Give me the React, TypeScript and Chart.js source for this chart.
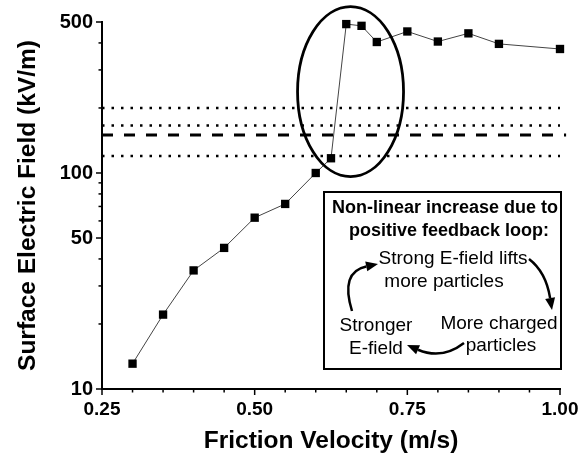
import React, { useEffect, useRef } from 'react';
import { Chart, registerables } from 'chart.js';

Chart.register(...registerables);

// ---- data ----
const frictionVelocity = [0.3, 0.35, 0.4, 0.45, 0.5, 0.55, 0.6, 0.625, 0.65, 0.675, 0.7, 0.75, 0.8, 0.85, 0.9, 1.0];
const surfaceField = [13.1, 22.1, 35.4, 45.0, 62.1, 71.9, 100, 117, 489, 480, 404, 452, 406, 443, 396, 375];
const dottedLevels = [200, 166, 120];
const dashedLevel = 150;
const levelSpan = [0.25, 1.0];
const dashedSpan = [0.25, 1.01];
const xTickValues = [0.25, 0.3, 0.35, 0.4, 0.45, 0.5, 0.55, 0.6, 0.65, 0.7, 0.75, 0.8, 0.85, 0.9, 0.95, 1.0];
const xLabelValues = [0.25, 0.5, 0.75, 1.0];
const yTickValues = [10, 20, 30, 40, 50, 60, 70, 80, 90, 100, 200, 300, 400, 500];
const yLabelValues = [10, 50, 100, 500];
const xTitle = 'Friction Velocity (m/s)';
const yTitle = 'Surface Electric Field (kV/m)';
const boxHeading = ['Non-linear increase due to', 'positive feedback loop:'];
const loopTop = ['Strong E-field lifts', 'more particles'];
const loopRight = ['More charged', 'particles'];
const loopLeft = ['Stronger', 'E-field'];

const FONT = "'Liberation Sans', Arial, Helvetica, sans-serif";

const isIn = (v: number, arr: number[]) => arr.some((a) => Math.abs(a - v) < 1e-6);

function arrow(ctx: CanvasRenderingContext2D, x0: number, y0: number, cx: number, cy: number, x1: number, y1: number) {
  const ang = Math.atan2(y1 - cy, x1 - cx);
  const headLen = 12;
  const headW = 5;
  const bx = x1 - headLen * Math.cos(ang);
  const by = y1 - headLen * Math.sin(ang);
  ctx.beginPath();
  ctx.moveTo(x0, y0);
  ctx.quadraticCurveTo(cx, cy, bx, by);
  ctx.lineWidth = 2.5;
  ctx.strokeStyle = '#000';
  ctx.stroke();
  ctx.beginPath();
  ctx.moveTo(x1, y1);
  ctx.lineTo(bx + headW * Math.sin(ang), by - headW * Math.cos(ang));
  ctx.lineTo(bx - headW * Math.sin(ang), by + headW * Math.cos(ang));
  ctx.closePath();
  ctx.fillStyle = '#000';
  ctx.fill();
}

const decorPlugin = {
  id: 'decor',
  afterDraw(chart: any) {
    const ctx: CanvasRenderingContext2D = chart.ctx;
    const xs = chart.scales.x;
    const ys = chart.scales.y;
    const area = chart.chartArea;
    ctx.save();
    // tick marks
    ctx.strokeStyle = '#000';
    ctx.lineWidth = 1.5;
    xTickValues.forEach((v) => {
      const px = xs.getPixelForValue(v);
      const len = isIn(v, xLabelValues) ? 6 : 3.5;
      ctx.beginPath();
      ctx.moveTo(px, area.bottom);
      ctx.lineTo(px, area.bottom + len);
      ctx.stroke();
    });
    yTickValues.forEach((v) => {
      const py = ys.getPixelForValue(v);
      const len = isIn(v, yLabelValues) ? 6 : 3.5;
      ctx.beginPath();
      ctx.moveTo(area.left, py);
      ctx.lineTo(area.left - len, py);
      ctx.stroke();
    });

    // ellipse around the jump
    const ecx = xs.getPixelForValue(0.657);
    const ecy = ys.getPixelForValue(238);
    ctx.beginPath();
    ctx.ellipse(ecx, ecy, 53, 85, 0, 0, Math.PI * 2);
    ctx.lineWidth = 2.8;
    ctx.stroke();

    // annotation box
    const bl = area.left + 222;
    const bt = area.top + 170;
    const bw = 237;
    const bh = 177;
    ctx.fillStyle = '#fff';
    ctx.fillRect(bl, bt, bw, bh);
    ctx.lineWidth = 2;
    ctx.strokeRect(bl, bt, bw, bh);

    ctx.fillStyle = '#000';
    ctx.textAlign = 'center';
    ctx.textBaseline = 'alphabetic';
    ctx.font = `bold 18px ${FONT}`;
    ctx.fillText(boxHeading[0], bl + 121, bt + 21);
    ctx.fillText(boxHeading[1], bl + 125, bt + 44);
    ctx.font = `19px ${FONT}`;
    ctx.fillText(loopTop[0], bl + 129, bt + 72);
    ctx.fillText(loopTop[1], bl + 120, bt + 95);
    ctx.fillText(loopRight[0], bl + 175, bt + 137);
    ctx.fillText(loopRight[1], bl + 177, bt + 159);
    ctx.fillText(loopLeft[0], bl + 52, bt + 139);
    ctx.fillText(loopLeft[1], bl + 52, bt + 162);

    // feedback arrows
    arrow(ctx, bl + 205, bt + 67, bl + 222, bt + 80, bl + 228, bt + 118);
    arrow(ctx, bl + 140, bt + 151, bl + 118, bt + 168, bl + 83, bt + 153);
    arrow(ctx, bl + 28, bt + 119, bl + 16, bt + 80, bl + 54, bt + 72);
    ctx.restore();
  },
};

export default function App() {
  const ref = useRef<HTMLCanvasElement | null>(null);
  useEffect(() => {
    if (!ref.current) return;
    Chart.defaults.font.family = FONT;
    const levelSets = dottedLevels.map((lv) => ({
      data: levelSpan.map((x) => ({ x, y: lv })),
      borderColor: '#000',
      borderWidth: 2.5,
      borderDash: [2.5, 7],
      pointRadius: 0,
      showLine: true,
      fill: false,
      clip: false as any,
    }));
    const chart = new Chart(ref.current, {
      type: 'scatter',
      data: {
        datasets: [
          ...levelSets,
          {
            data: dashedSpan.map((x) => ({ x, y: dashedLevel })),
            borderColor: '#000',
            borderWidth: 3,
            borderDash: [11, 11],
            pointRadius: 0,
            showLine: true,
            fill: false,
            clip: false as any,
          },
          {
            data: frictionVelocity.map((x, i) => ({ x, y: surfaceField[i] })),
            borderColor: '#444',
            borderWidth: 1,
            showLine: true,
            pointStyle: 'rect',
            pointRadius: 5.9,
            pointBackgroundColor: '#000',
            pointBorderColor: '#000',
            pointBorderWidth: 0,
            fill: false,
            clip: false as any,
          },
        ],
      },
      options: {
        responsive: false,
        animation: false,
        devicePixelRatio: 1,
        layout: { padding: { left: 0, top: 22, right: 28, bottom: 0 } },
        plugins: { legend: { display: false }, tooltip: { enabled: false } },
        scales: {
          x: {
            type: 'linear',
            min: 0.25,
            max: 1.0,
            grid: { display: false, drawTicks: false },
            border: { display: true, color: '#000', width: 2 },
            afterBuildTicks: (s: any) => {
              s.ticks = xTickValues.map((v) => ({ value: v }));
            },
            afterFit: (s: any) => {
              s.height = 67;
            },
            ticks: {
              autoSkip: false,
              maxRotation: 0,
              padding: 9,
              color: '#000',
              font: { size: 19, weight: 'bold' },
              callback: (v: any) => (isIn(Number(v), xLabelValues) ? Number(v).toFixed(2) : ''),
            },
            title: {
              display: true,
              text: xTitle,
              color: '#000',
              font: { size: 24.5, weight: 'bold' },
              padding: { top: 0, bottom: 0 },
            },
          },
          y: {
            type: 'logarithmic',
            min: 10,
            max: 500,
            grid: { display: false, drawTicks: false },
            border: { display: true, color: '#000', width: 2 },
            afterBuildTicks: (s: any) => {
              s.ticks = yTickValues.map((v) => ({ value: v }));
            },
            afterFit: (s: any) => {
              s.width = 102;
            },
            ticks: {
              autoSkip: false,
              padding: 9,
              color: '#000',
              font: { size: 20, weight: 'bold' },
              callback: (v: any) => (isIn(Number(v), yLabelValues) ? String(v) : ''),
            },
            title: {
              display: true,
              text: yTitle,
              color: '#000',
              font: { size: 24.5, weight: 'bold' },
              padding: { top: 14, bottom: 0 },
            },
          },
        },
      } as any,
      plugins: [decorPlugin],
    });
    return () => chart.destroy();
  }, []);
  return (
    <div style={{ position: 'fixed', left: 0, top: 0, width: 588, height: 456, background: '#fff' }}>
      <canvas ref={ref} width={588} height={456} style={{ display: 'block' }} />
    </div>
  );
}
